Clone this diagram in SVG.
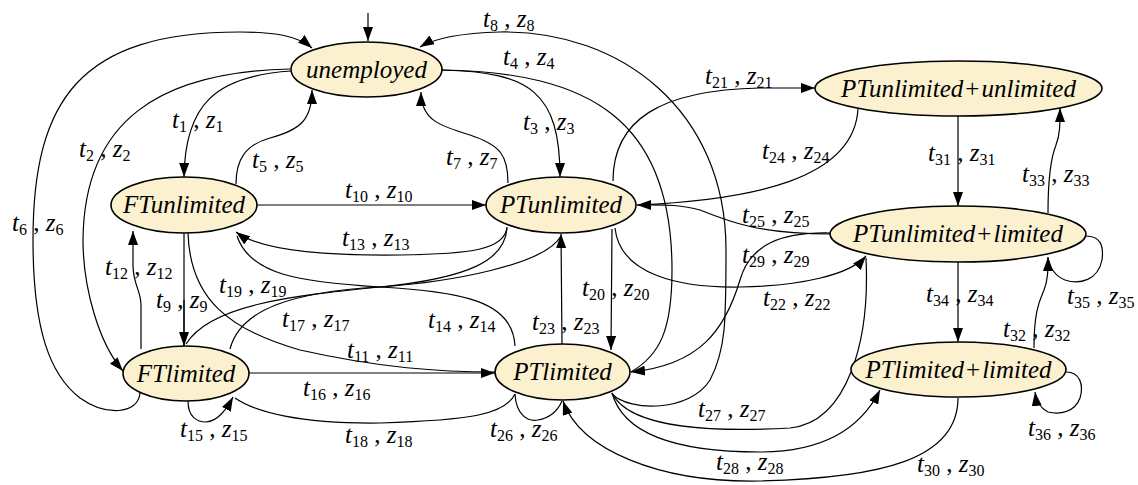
<svg xmlns="http://www.w3.org/2000/svg" width="1138" height="485" viewBox="0 0 1138 485">
<defs>
<marker id="ah" viewBox="0 0 14 10" refX="14" refY="5" markerWidth="14" markerHeight="10" markerUnits="userSpaceOnUse" orient="auto"><path d="M0,0 L14,5 L0,10 z" fill="#000"/></marker>
</defs>
<style>
.n{fill:#FCF1CF;stroke:#000;stroke-width:1.6}
.nt{font-family:"Liberation Serif",serif;font-style:italic;font-size:25px;text-anchor:middle;fill:#000}
.up{font-style:normal}
.e{fill:none;stroke:#000;stroke-width:1.2}
.a{marker-end:url(#ah)}
.lb{font-family:"Liberation Serif",serif;font-size:25px;font-style:italic;fill:#000}
.s{font-size:16px;font-style:normal}
.c{font-style:normal}
</style>
<rect width="1138" height="485" fill="#fff"/>
<g id="connectors">
<path class="e a" d="M368,13 L368,41"/>
<path class="e a" d="M291,71 C215,76 185,105 184,177"/>
<path class="e a" d="M290,69 C160,72 84,120 83,240 C83,290 100,345 123,371"/>
<path class="e a" d="M140,393 C138,415 105,416 80,398 C50,375 33,330 33,240 C33,100 80,32 240,32 C275,32 298,36 312,48"/>
<path class="e a" d="M236,184 C236,160 245,145 270,138 C300,130 312,120 312,90"/>
<path class="e a" d="M508,183 C508,155 500,145 470,135 C440,126 421,120 421,92"/>
<path class="e a" d="M442,70 C530,72 560,92 560,177"/>
<path class="e" d="M442,70 C590,72 672,120 672,270 C672,330 660,355 631,372"/>
<path class="e a" d="M612,394 C630,412 690,412 710,380 C726,350 726,320 726,250 C726,110 620,30 500,32 C465,33 435,38 420,47"/>
<path class="e" d="M184,233 L184,346"/>
<path class="e a" d="M257,205 L486,205"/>
<path class="e" d="M188,233 C190,300 230,330 300,350 C380,368 440,372 495,372"/>
<path class="e a" d="M141,349 L141,305 C141,290 133,285 133,265 L133,231"/>
<path class="e a" d="M507,227 C505,250 470,254 400,255 C320,256 260,250 236,232"/>
<path class="e" d="M515,346 C513,300 460,292 380,287 C300,282 250,275 237,236"/>
<path class="e a" d="M188,401 C188,418 198,422 206,422 C218,421 226,410 233,397"/>
<path class="e a" d="M249,373 L495,373"/>
<path class="e" d="M230,349 C240,310 290,292 380,287 C450,282 545,265 561,236"/>
<path class="e" d="M507,228 C505,260 470,278 380,287 C290,296 210,305 186,344"/>
<path class="e a" d="M184,300 L184,346"/>
<path class="e" d="M515,394 C505,415 470,420 380,423 C300,424 255,412 235,398"/>
<path class="e a" d="M612,229 L611,350"/>
<path class="e a" d="M613,181 C613,120 660,90 760,88 L815,88"/>
<path class="e a" d="M615,228 C620,275 680,288 740,287 C800,286 850,275 866,256"/>
<path class="e a" d="M562,344 L561,234"/>
<path class="e" d="M858,108 C855,180 750,200 637,205"/>
<path class="e a" d="M830,234 C760,234 730,222 700,210 C680,204 660,205 637,205"/>
<path class="e" d="M515,394 C516,415 528,422 538,420 C550,418 558,410 562,401"/>
<path class="e" d="M612,393 C630,430 720,432 790,428 C848,422 870,340 866,258"/>
<path class="e a" d="M612,393 C625,440 690,452 760,452 C820,452 860,430 880,390"/>
<path class="e a" d="M830,233 C780,232 750,245 740,280 C725,330 700,365 631,372"/>
<path class="e a" d="M958,398 C958,460 880,478 760,481 C660,483 580,450 563,401"/>
<path class="e a" d="M958,116 L958,206"/>
<path class="e a" d="M1034,348 C1034,310 1040,300 1044,290 C1048,280 1048,270 1048,257"/>
<path class="e a" d="M1048,213 C1048,175 1052,155 1056,145 C1060,135 1060,125 1060,108"/>
<path class="e a" d="M958,262 L958,342"/>
<path class="e" d="M1086,236 C1100,236 1104,245 1102,260 C1098,280 1080,285 1065,280 C1055,276 1050,268 1048,258"/>
<path class="e a" d="M1066,372 C1080,372 1084,385 1080,398 C1075,412 1060,415 1048,412 C1040,408 1036,400 1035,392"/>
</g>
<g id="labels">
<text class="lb" x="483" y="27">t<tspan class="s" dy="4">8</tspan><tspan class="c" dy="-4"> , </tspan>z<tspan class="s" dy="4">8</tspan></text>
<text class="lb" x="503" y="65">t<tspan class="s" dy="4">4</tspan><tspan class="c" dy="-4"> , </tspan>z<tspan class="s" dy="4">4</tspan></text>
<text class="lb" x="172" y="128">t<tspan class="s" dy="4">1</tspan><tspan class="c" dy="-4"> , </tspan>z<tspan class="s" dy="4">1</tspan></text>
<text class="lb" x="79" y="157">t<tspan class="s" dy="4">2</tspan><tspan class="c" dy="-4"> , </tspan>z<tspan class="s" dy="4">2</tspan></text>
<text class="lb" x="252" y="168">t<tspan class="s" dy="4">5</tspan><tspan class="c" dy="-4"> , </tspan>z<tspan class="s" dy="4">5</tspan></text>
<text class="lb" x="12" y="231">t<tspan class="s" dy="4">6</tspan><tspan class="c" dy="-4"> , </tspan>z<tspan class="s" dy="4">6</tspan></text>
<text class="lb" x="523" y="130">t<tspan class="s" dy="4">3</tspan><tspan class="c" dy="-4"> , </tspan>z<tspan class="s" dy="4">3</tspan></text>
<text class="lb" x="446" y="165">t<tspan class="s" dy="4">7</tspan><tspan class="c" dy="-4"> , </tspan>z<tspan class="s" dy="4">7</tspan></text>
<text class="lb" x="345" y="198">t<tspan class="s" dy="4">10</tspan><tspan class="c" dy="-4"> , </tspan>z<tspan class="s" dy="4">10</tspan></text>
<text class="lb" x="342" y="246">t<tspan class="s" dy="4">13</tspan><tspan class="c" dy="-4"> , </tspan>z<tspan class="s" dy="4">13</tspan></text>
<text class="lb" x="219" y="293">t<tspan class="s" dy="4">19</tspan><tspan class="c" dy="-4"> , </tspan>z<tspan class="s" dy="4">19</tspan></text>
<text class="lb" x="282" y="327">t<tspan class="s" dy="4">17</tspan><tspan class="c" dy="-4"> , </tspan>z<tspan class="s" dy="4">17</tspan></text>
<text class="lb" x="428" y="328">t<tspan class="s" dy="4">14</tspan><tspan class="c" dy="-4"> , </tspan>z<tspan class="s" dy="4">14</tspan></text>
<text class="lb" x="105" y="275">t<tspan class="s" dy="4">12</tspan><tspan class="c" dy="-4"> , </tspan>z<tspan class="s" dy="4">12</tspan></text>
<text class="lb" x="156" y="308">t<tspan class="s" dy="4">9</tspan><tspan class="c" dy="-4"> , </tspan>z<tspan class="s" dy="4">9</tspan></text>
<text class="lb" x="347" y="358">t<tspan class="s" dy="4">11</tspan><tspan class="c" dy="-4"> , </tspan>z<tspan class="s" dy="4">11</tspan></text>
<text class="lb" x="303" y="396">t<tspan class="s" dy="4">16</tspan><tspan class="c" dy="-4"> , </tspan>z<tspan class="s" dy="4">16</tspan></text>
<text class="lb" x="180" y="437">t<tspan class="s" dy="4">15</tspan><tspan class="c" dy="-4"> , </tspan>z<tspan class="s" dy="4">15</tspan></text>
<text class="lb" x="345" y="443">t<tspan class="s" dy="4">18</tspan><tspan class="c" dy="-4"> , </tspan>z<tspan class="s" dy="4">18</tspan></text>
<text class="lb" x="532" y="330">t<tspan class="s" dy="4">23</tspan><tspan class="c" dy="-4"> , </tspan>z<tspan class="s" dy="4">23</tspan></text>
<text class="lb" x="582" y="296">t<tspan class="s" dy="4">20</tspan><tspan class="c" dy="-4"> , </tspan>z<tspan class="s" dy="4">20</tspan></text>
<text class="lb" x="490" y="437">t<tspan class="s" dy="4">26</tspan><tspan class="c" dy="-4"> , </tspan>z<tspan class="s" dy="4">26</tspan></text>
<text class="lb" x="698" y="417">t<tspan class="s" dy="4">27</tspan><tspan class="c" dy="-4"> , </tspan>z<tspan class="s" dy="4">27</tspan></text>
<text class="lb" x="716" y="470">t<tspan class="s" dy="4">28</tspan><tspan class="c" dy="-4"> , </tspan>z<tspan class="s" dy="4">28</tspan></text>
<text class="lb" x="763" y="306">t<tspan class="s" dy="4">22</tspan><tspan class="c" dy="-4"> , </tspan>z<tspan class="s" dy="4">22</tspan></text>
<text class="lb" x="742" y="263">t<tspan class="s" dy="4">29</tspan><tspan class="c" dy="-4"> , </tspan>z<tspan class="s" dy="4">29</tspan></text>
<text class="lb" x="742" y="223">t<tspan class="s" dy="4">25</tspan><tspan class="c" dy="-4"> , </tspan>z<tspan class="s" dy="4">25</tspan></text>
<text class="lb" x="762" y="159">t<tspan class="s" dy="4">24</tspan><tspan class="c" dy="-4"> , </tspan>z<tspan class="s" dy="4">24</tspan></text>
<text class="lb" x="705" y="84">t<tspan class="s" dy="4">21</tspan><tspan class="c" dy="-4"> , </tspan>z<tspan class="s" dy="4">21</tspan></text>
<text class="lb" x="928" y="161">t<tspan class="s" dy="4">31</tspan><tspan class="c" dy="-4"> , </tspan>z<tspan class="s" dy="4">31</tspan></text>
<text class="lb" x="1022" y="182">t<tspan class="s" dy="4">33</tspan><tspan class="c" dy="-4"> , </tspan>z<tspan class="s" dy="4">33</tspan></text>
<text class="lb" x="926" y="302">t<tspan class="s" dy="4">34</tspan><tspan class="c" dy="-4"> , </tspan>z<tspan class="s" dy="4">34</tspan></text>
<text class="lb" x="1067" y="304">t<tspan class="s" dy="4">35</tspan><tspan class="c" dy="-4"> , </tspan>z<tspan class="s" dy="4">35</tspan></text>
<text class="lb" x="1003" y="337">t<tspan class="s" dy="4">32</tspan><tspan class="c" dy="-4"> , </tspan>z<tspan class="s" dy="4">32</tspan></text>
<text class="lb" x="1028" y="436">t<tspan class="s" dy="4">36</tspan><tspan class="c" dy="-4"> , </tspan>z<tspan class="s" dy="4">36</tspan></text>
<text class="lb" x="917" y="472">t<tspan class="s" dy="4">30</tspan><tspan class="c" dy="-4"> , </tspan>z<tspan class="s" dy="4">30</tspan></text>
</g>
<g id="unemployed"><ellipse class="n" cx="366.5" cy="69.5" rx="75.5" ry="27.5"/><text class="nt" x="366.5" y="77.5">unemployed</text></g>
<g id="FTunlimited"><ellipse class="n" cx="184" cy="205" rx="73" ry="28"/><text class="nt" x="184" y="213">FTunlimited</text></g>
<g id="PTunlimited"><ellipse class="n" cx="561" cy="205" rx="75" ry="28"/><text class="nt" x="561" y="213">PTunlimited</text></g>
<g id="FTlimited"><ellipse class="n" cx="186" cy="373.5" rx="63" ry="27.5"/><text class="nt" x="186" y="381.5">FTlimited</text></g>
<g id="PTlimited"><ellipse class="n" cx="562.5" cy="372" rx="67.5" ry="28"/><text class="nt" x="562.5" y="380">PTlimited</text></g>
<g id="PTunlimited_unlimited"><ellipse class="n" cx="958.5" cy="88.5" rx="143.5" ry="27.5"/><text class="nt" x="958.5" y="96.5">PTunlimited<tspan class="up" dx="2">+</tspan><tspan dx="2">unlimited</tspan></text></g>
<g id="PTunlimited_limited"><ellipse class="n" cx="958" cy="234" rx="128" ry="28"/><text class="nt" x="958" y="242">PTunlimited<tspan class="up" dx="2">+</tspan><tspan dx="2">limited</tspan></text></g>
<g id="PTlimited_limited"><ellipse class="n" cx="958.5" cy="369.5" rx="107.5" ry="27.5"/><text class="nt" x="958.5" y="377.5">PTlimited<tspan class="up" dx="2">+</tspan><tspan dx="2">limited</tspan></text></g>
</svg>
